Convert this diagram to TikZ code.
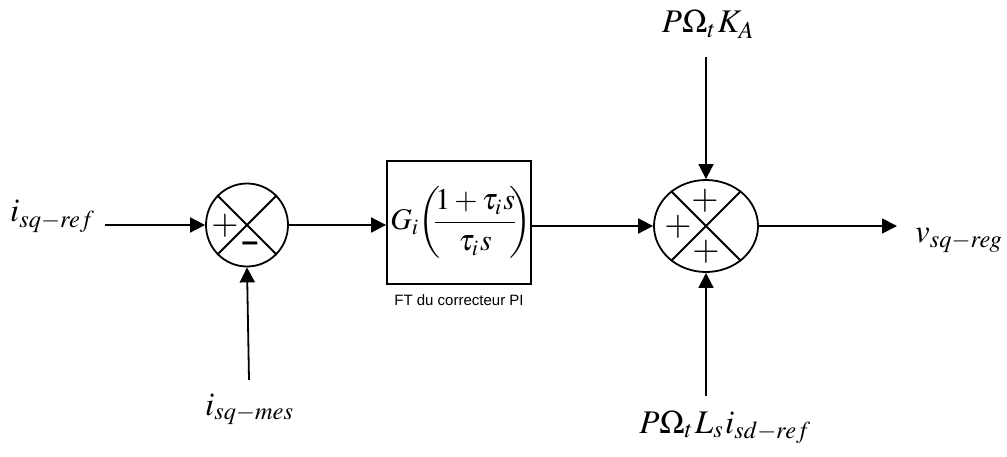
\documentclass[tikz,border=0pt]{standalone}
\usepackage[no-math]{fontspec}
\newfontfamily\arialf{Liberation Sans}
\usepackage{mathptmx}
\usetikzlibrary{arrows.meta,shapes.geometric}
\tikzset{
  conn/.style={line width=1.8pt, -{Triangle[length=15pt,width=15pt]}},
  plain/.style={line width=1.8pt},
  sumj/.style={draw, line width=1.8pt, ellipse, inner sep=0pt},
  lbl/.style={font=\fontsize{33}{38}\selectfont, inner sep=0pt},
  sgn/.style={font=\fontsize{35}{35}\selectfont, inner sep=0pt},
  msgn/.style={font=\arialf\bfseries\fontsize{30}{30}\selectfont, inner sep=0pt},
  blk/.style={draw, line width=1.8pt, minimum width=144pt, minimum height=123pt, inner sep=0pt},
}
\begin{document}
\begin{tikzpicture}[x=1pt,y=-1pt]
\useasboundingbox (0,0) rectangle (1007,457);
% summing junctions
\node[sumj, minimum width=82pt, minimum height=83pt] (L) at (247,225) {};
\node[sumj, minimum width=104pt, minimum height=92pt] (R) at (706,226) {};
\draw[plain] (L.45) -- (L.225) (L.135) -- (L.315);
\draw[plain] (R.45) -- (R.225) (R.135) -- (R.315);
\node[sgn] (Lp) at (225,226) {$+$};
\node[msgn] (Lm) at (250,247) {–};
\node[sgn] (Rt) at (705,201) {$+$};
\node[sgn] (Rl) at (678,227) {$+$};
\node[sgn] (Rb) at (706,252) {$+$};
% PI block
\node[blk] (B) at (459,222.5) {};
\node[inner sep=0pt, font=\fontsize{30}{36}\selectfont] (F) at (461,222.5)
  {$\displaystyle G_i\mkern-2mu\left(\mkern-4mu\frac{1+\tau_i\mkern1mu s}{\tau_i\mkern1mu s}\mkern-4mu\right)$};
\node[font=\arialf\fontsize{15}{17}\selectfont, inner sep=0pt] (ft) at (459,300) {FT du correcteur PI};
% labels
\node[lbl, anchor=base west] (iref) at (10,222) {$i_{sq-ref}$};
\node[lbl, anchor=base west] (imes) at (205,415) {$i_{sq-mes}$};
\node[lbl, anchor=base west] (vreg) at (915,243) {$v_{sq-reg}$};
\node[lbl, anchor=base] (pka) at (708,33) {$P\Omega_t\mkern1mu K_A$};
\node[lbl, anchor=base] (pls) at (725,433) {$P\Omega_t\mkern1mu L_s\mkern1mu i_{sd-ref}$};
% end coordinates of connectors
\coordinate (a0) at (105,225);
\coordinate (b0) at (249,380);
\coordinate (c0) at (706,57);
\coordinate (d0) at (706,396);
\coordinate (e0) at (897,226);
% connectors
\draw[conn] (a0) -- (L.west);
\draw[conn] (b0) -- (L.south);
\draw[conn] (L.east) -- (B.west |- L.east);
\draw[conn] (B.east |- R.west) -- (R.west);
\draw[conn] (c0) -- (R.north);
\draw[conn] (d0) -- (R.south);
\draw[conn] (R.east) -- (e0);
\end{tikzpicture}
\end{document}
